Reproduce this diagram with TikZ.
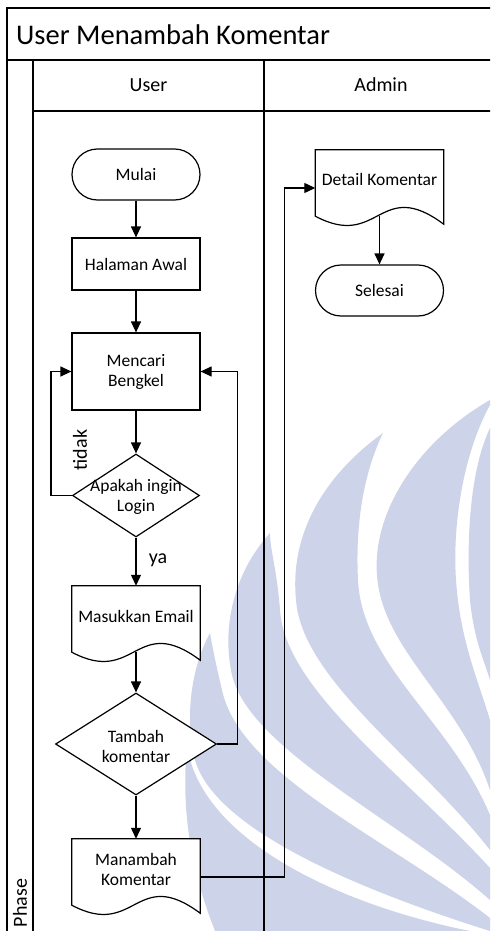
\documentclass[tikz,border=0pt]{standalone}
\usepackage{fontspec}
\setmainfont{Carlito}
\usetikzlibrary{arrows.meta,calc,shapes.geometric}
\definecolor{wm}{RGB}{205,211,232}
\begin{document}
\begin{tikzpicture}[x=1pt,y=-1pt,
  ln/.style={line width=1.2pt},
  fr/.style={line width=1.6pt},
  arr/.style={ln,-{Triangle[length=11pt,width=10pt]}},
  txt/.style={font=\fontsize{17.5}{20}\selectfont, align=center, inner sep=0pt},
  lbl/.style={font=\fontsize{20}{24}\selectfont, inner sep=0pt},
  term/.style={ln, draw, fill=white, rounded corners=25.5pt, minimum width=128pt, minimum height=51pt, inner sep=0pt, font=\fontsize{17.5}{20}\selectfont},
  proc/.style={ln, draw, fill=white, minimum width=128pt, inner sep=0pt, align=center, font=\fontsize{17.5}{20}\selectfont},
  docbox/.style={minimum width=128pt, minimum height=66pt, inner sep=0pt},
  dec/.style={ln, draw, fill=white, diamond, inner sep=0pt},
  docline/.style={ln, draw, fill=white, line join=miter},
]
\useasboundingbox (0,0) rectangle (490,931);
\clip (0,0) rectangle (490,931);
\fill[white] (0,0) rectangle (490,931);

% watermark (background logo)
\begin{scope}[fill=wm]
% A: far right strip
\fill (490,428) .. controls (470,470) and (466,540) .. (470,600) .. controls (474,640) and (484,660) .. (490,680) -- cycle;
% B: big right leaf
\fill (490,400) .. controls (420,440) and (372,510) .. (377,575) .. controls (382,650) and (460,700) .. (490,790)
  -- (490,720) .. controls (478,680) and (460,640) .. (456,580) .. controls (452,520) and (465,450) .. (490,405) -- cycle;
% C
\fill (383,433) .. controls (318,480) and (290,540) .. (296,600) .. controls (302,680) and (420,760) .. (490,850)
  -- (490,815) .. controls (450,720) and (362,665) .. (358,580) .. controls (355,520) and (365,470) .. (383,433) -- cycle;
% D
\fill (270,533) .. controls (232,575) and (222,630) .. (232,675) .. controls (250,750) and (400,820) .. (490,900)
  -- (490,868) .. controls (405,775) and (285,690) .. (280,610) .. controls (277,570) and (270,550) .. (270,533) -- cycle;
% E
\fill (210,633) .. controls (190,670) and (185,720) .. (195,760) .. controls (215,830) and (360,890) .. (490,931)
  -- (490,918) .. controls (390,840) and (240,775) .. (222,690) .. controls (216,665) and (212,645) .. (210,633) -- cycle;
% F: bottom
\fill (187,745) .. controls (180,820) and (195,880) .. (215,931) -- (470,931) .. controls (340,905) and (200,840) .. (187,745) -- cycle;
\end{scope}

% frame
\draw[fr] (7,8) rectangle (500,945);
\draw[fr] (7,60) -- (500,60);
\draw[fr] (33,60) -- (33,945);
\draw[fr] (33,111) -- (500,111);
\draw[fr] (264,60) -- (264,945);

\node[anchor=west, inner sep=0pt, font=\fontsize{28.5}{34}\selectfont] (title) at (16,35) {User Menambah Komentar};
\node[lbl] (hUser) at (148.5,85) {User};
\node[lbl] (hAdmin) at (381,85) {Admin};
\node[lbl, rotate=90] (phase) at (20,903) {Phase};

% nodes
\node[term] (mulai) at (136,174.5) {Mulai};
\node[proc, minimum height=52pt] (awal) at (136,264) {Halaman Awal};
\node[proc, minimum height=77pt] (cari) at (136,371.5) {Mencari\\Bengkel};
\node[dec, minimum width=127pt, minimum height=83pt] (login) at (136,495.5) {};
\node[txt] (loginT) at (136,497) {Apakah ingin\\Login};

\node[docbox] (mas) at (136,619) {};
\draw[docline] (mas.south west) -- (mas.north west) -- (mas.north east) -- ($(mas.south east)+(0,8)$) .. controls ($(mas.south west)+(64,-40)$) and ($(mas.south west)+(64,34)$) .. (mas.south west) -- cycle;
\node[txt] (masT) at ($(mas.center)+(0,-3)$) {Masukkan Email};

\node[dec, minimum width=161pt, minimum height=102pt] (tambah) at (136,744) {};
\node[txt] (tambahT) at (136,746) {Tambah\\komentar};

\node[docbox] (man) at (136,872) {};
\draw[docline] (man.south west) -- (man.north west) -- (man.north east) -- ($(man.south east)+(0,8)$) .. controls ($(man.south west)+(64,-40)$) and ($(man.south west)+(64,34)$) .. (man.south west) -- cycle;
\node[txt] (manT) at ($(man.center)+(0,-3)$) {Manambah\\Komentar};

\node[docbox] (det) at (379.5,183) {};
\draw[docline] (det.south west) -- (det.north west) -- (det.north east) -- ($(det.south east)+(0,8)$) .. controls ($(det.south west)+(64,-40)$) and ($(det.south west)+(64,34)$) .. (det.south west) -- cycle;
\node[txt] (detT) at ($(det.center)+(0,-4)$) {Detail Komentar};

\node[term] (selesai) at (379.5,290.5) {Selesai};

% connectors
\draw[arr] (mulai) -- (awal);
\draw[arr] (awal) -- (cari);
\draw[arr] (cari) -- (login);
\draw[arr] (login.west) -- ++(-21,0) |- (cari.west);
\node[lbl, rotate=90] (tidak) at (80,450) {tidak};
\draw[arr] (login.south) -- (mas.north);
\node[lbl] (ya) at (158,560) {ya};
\draw[arr] (mas.south) -- (tambah.north);
\draw[arr] (tambah.east) -- ++(20,0) |- (cari.east);
\draw[arr] (tambah.south) -- (man.north);
\draw[arr] ($(man.east)+(0,5)$) -- ++(84,0) |- ($(det.west)+(0,5)$);
\draw[arr] (det.south) -- (selesai.north);
\end{tikzpicture}
\end{document}
